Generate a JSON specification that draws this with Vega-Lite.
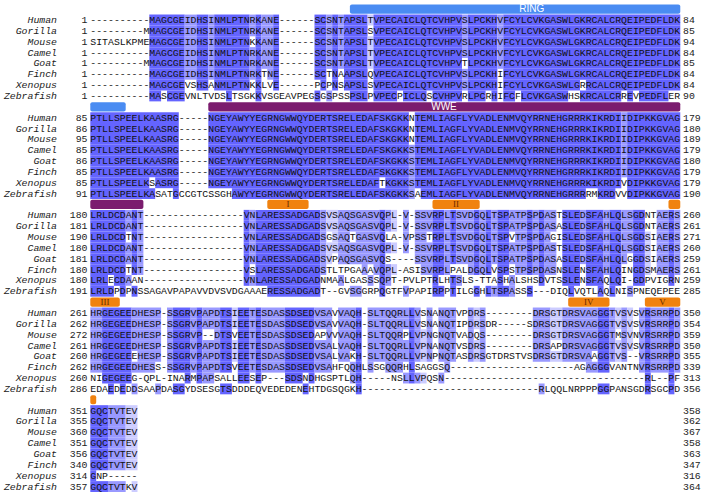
{
"$schema": "https://vega.github.io/schema/vega-lite/v6.json",
"width": 706, "height": 495, "padding": 0, "autosize": {"type": "none"},
"background": "white",
"config": {"view": {"stroke": null}},
"datasets": {
"seq": [
{"r":1,"n":"Human","a":1,"z":84,"q":"----------MAGCGEIDHSINMLPTNRKANE------SCSNTAPSLTVPECAICLQTCVHPVSLPCKHVFCYLCVKGASWLGKRCALCRQEIPEDFLDK"},
{"r":2,"n":"Gorilla","a":1,"z":85,"q":"---------MMAGCGEIDHSINMLPTNRKANE------SCSNTAPSLSVPECAICLQTCVHPVSLPCKHVFCYLCVKGASWLGKRCALCRQEIPEDFLDK"},
{"r":3,"n":"Mouse","a":1,"z":94,"q":"SITASLKPMEMAGCGEIDHSINMLPTNKKANE------SCSNTAPSLTVPECAICLQTCVHPVSLPCKHVFCYLCVKGASWLGKRCALCRQEIPEDFLDK"},
{"r":4,"n":"Camel","a":1,"z":84,"q":"----------MAGCGEIDHSINMLPTNRKANE------SCSNTAPSLTVPECAICLQTCVHPVSLPCKHVFCYLCVKGASWLGKRCALCRQEIPEDFLDK"},
{"r":5,"n":"Goat","a":1,"z":85,"q":"---------MMAGCGEIDHSINMLPTNRKANE------SCSNTAPSLTVPECAICLQTCVHPVTLPCKHVFCYLCVKGASWLGKRCALCRQEIPEDFLDK"},
{"r":6,"n":"Finch","a":1,"z":84,"q":"----------MAGCGEIDHSINMLPTNRKTNE------SCTNAAPSLQVPECAICLQTCVHPVSLPCKHIFCYLCVKGASWLGKRCALCRQEIPEDFLDK"},
{"r":7,"n":"Xenopus","a":1,"z":84,"q":"----------MAGCGEVSHSANMLPTNKKLVE------PCPNSAPSLSVPECAICLQTCVHPVSLPCKHIFCYLCVKGASWLGRRCALCRQEIPEDFLDK"},
{"r":8,"n":"Zebrafish","a":1,"z":90,"q":"----------MASCGEVNLTVDSLTSGKKVSGEAVPEGSGSPSSPSLPVPECPICLQSCVHPVRLPCRHIFCFLCVKGASWHSKRCALCRREVPEDFLER"},
{"r":10,"n":"Human","a":85,"z":179,"q":"PTLLSPEELKAASRG-----NGEYAWYYEGRNGWWQYDERTSRELEDAFSKGKKNTEMLIAGFLYVADLENMVQYRRNEHGRRRKIKRDIIDIPKKGVAG"},
{"r":11,"n":"Gorilla","a":86,"z":180,"q":"PTLLSPEELKAASRG-----NGEYAWYYEGRNGWWQYDERTSRELEDAFSKGKKNTEMLIAGFLYVADLENMVQYRRNEHGRRRKIKRDIIDIPKKGVAG"},
{"r":12,"n":"Mouse","a":95,"z":189,"q":"PTLLSPEELKAASRG-----NGEYAWYYEGRNGWWQYDERTSRELEDAFSKGKKNTEMLIAGFLYVADLENMVQYRRNEHGRRRKIKRDIIDIPKKGVAG"},
{"r":13,"n":"Camel","a":85,"z":179,"q":"PTLLSPEELKAASRG-----NGEYAWYYEGRNGWWQYDERTSRELEDAFSKGKKSTEMLIAGFLYVADLENMVQYRRNEHGRRRKIKRDIIDIPKKGVAG"},
{"r":14,"n":"Goat","a":86,"z":180,"q":"PTLLSPEELKAASRG-----NGEYAWYYEGRNGWWQYDERTSRELEDAFSKGKKSTEMLIAGFLYVADLENMVQYRRNEHGRRRKIKRDIIDIPKKGVAG"},
{"r":15,"n":"Finch","a":85,"z":179,"q":"PTLLSPEELKAASRG-----NGEYAWYYEGRNGWWQYDERTSRELEDAFSKGKKSTEMLIAGFLYVADLENMVQYRRNEHGRRRKIKRDIIDIPKKGVAG"},
{"r":16,"n":"Xenopus","a":85,"z":179,"q":"PTLLSPEELKSASRG-----NGEYAWYYEGRNGWWQYDERTSRELEDAFTKGKKSTEMLIAGFLYVADLENMVQYRRNEHGRRRKIKRDIVDIPKKGVAG"},
{"r":17,"n":"Zebrafish","a":91,"z":190,"q":"PTLLSPEELKASATGCCGTCSSGHAWYYEGRNGWWQYDERTSRELEDAFSKGKKSAEMLIAGFLYVADLENMVQYRRNEHGRRRRMKRDVVDIPKKGVAG"},
{"r":19,"n":"Human","a":180,"z":260,"q":"LRLDCDANT-----------------VNLARESSADGADSVSAQSGASVQPL-V-SSVRPLTSVDGQLTSPATPSPDASTSLEDSFAHLQLSGDNTAERS"},
{"r":20,"n":"Gorilla","a":181,"z":261,"q":"LRLDCDANT-----------------VNLARESSADGADSVSAQSGASVQPL-V-SSVRPLTSVDGQLTSPATPSPDASASLEDSFAHLQLSGDNTAERS"},
{"r":21,"n":"Mouse","a":190,"z":271,"q":"LRLDCDTNT-----------------VNLARESSADGADSGSAQTGASVQLA-VPSSTRPLTSVDGQLTSPVTPSPDAGISLEDSFAHLQLSGDSIAERS"},
{"r":22,"n":"Camel","a":180,"z":260,"q":"LRLDCDANT-----------------VNLARESSADGADSVSAQSGASVQPL-V-SSVRPLTSVDGQLTSPATPSPDASTSLEDSFAHLQLSGDSIAERS"},
{"r":23,"n":"Goat","a":181,"z":259,"q":"LRLDCDANT-----------------VNLARESSADGADSVPAQSGASVQS----SSVRPLTSVDGQLTSPATPSPDASASLEDSFAHLQLGGDSIAERS"},
{"r":24,"n":"Finch","a":180,"z":261,"q":"LRLDCDTNT-----------------VSLARESSADGADSTLTPGAAAVQPL-ASISVRPLPALDGQLVSPSTPSPDASNSLENSFAHLQINGDSMAERS"},
{"r":25,"n":"Xenopus","a":180,"z":259,"q":"LRLECDAAN-----------------VNLARESSADGADNMAALGASSSQPT-PVLPTRLHTSLS-TTASHALSHSDVTSSLENSFAQLQI-GDPVIGRN"},
{"r":26,"n":"Zebrafish","a":191,"z":285,"q":"LRLDPDPNSSAGAVPAPAVVDVSVDGAAAERESSADGADT--GVSGGRPQGTFVPAPIRPPTILGGHLTSPASSS---DIQLVQTLAQLNISPNEQEPEE"},
{"r":28,"n":"Human","a":261,"z":350,"q":"HRGEGEEDHESP-SSGRVPAPDTSIEETESDASSDSEDVSAVVAQH-SLTQQRLLVSNANQTVPDRS--------DRSGTDRSVAGGGTVSVSVRSRRPD"},
{"r":29,"n":"Gorilla","a":262,"z":354,"q":"HRGEGEEDHESP-SSGRVPAPDTSIEETESDASSDSEDVSAVVAQH-SLTQQRLLVSNANQTIPDRSDR-----SDRSGTDRSVAGGGTVSVSVRSRRPD"},
{"r":30,"n":"Mouse","a":272,"z":359,"q":"HRGEGEEDHESP-SSGRVP--DTSVEETESDASSDSEDAPVVVAQH-SLTQQRPLVPNGNQTVADQS--------DRSGTDRSVAGGGTMSVNVRSRRPD"},
{"r":31,"n":"Camel","a":261,"z":350,"q":"HRGEGEEDHESP-SSGRVPAPDTSIEETESDASSDSEDVSALVAQH-SLTQQRLLVPNANQTVSDRS--------DRSAPDRSVAGGGTVSVSVRSRRPD"},
{"r":32,"n":"Goat","a":260,"z":355,"q":"HRGEGEEEHESP-SSGRVPAPDTSIEETESDASSDSEDVSALVAKH-SLTQQRLLVPNPNQTASDRSGTDRSTVSDRSGTDRSVAAGGTVS--VRSRRPD"},
{"r":33,"n":"Finch","a":262,"z":339,"q":"HRGEGEEDHESS-SSGRVPAPDTSVEETESDASSDSEDVSAHFQQHLSSGQQRHLSAGGSQ---------------------AGAGGGVANTNVRSRRPD"},
{"r":34,"n":"Xenopus","a":260,"z":313,"q":"NIGEGEEG-QPL-INARMPAPSALLEESEP---SDSNDHGSPTLQH-----NSLLVPQSN----------------------------------RL--PF"},
{"r":35,"n":"Zebrafish","a":286,"z":356,"q":"EDAEDEDDSAAPDASGYDSESGTSDDDEQVEDEDENEHTDGSQGKH------------------------------RLQQLNRPPPGGPANSGDRSGCPD"},
{"r":37,"n":"Human","a":351,"z":358,"q":"GQCTVTEV"},
{"r":38,"n":"Gorilla","a":355,"z":362,"q":"GQCTVTEV"},
{"r":39,"n":"Mouse","a":360,"z":367,"q":"GQCTVTEV"},
{"r":40,"n":"Camel","a":351,"z":358,"q":"GQCTVTEV"},
{"r":41,"n":"Goat","a":356,"z":363,"q":"GQCTVTEV"},
{"r":42,"n":"Finch","a":340,"z":347,"q":"GQCTVTEV"},
{"r":43,"n":"Xenopus","a":314,"z":316,"q":"GNP-----"},
{"r":44,"n":"Zebrafish","a":357,"z":364,"q":"GQCTVTKV"}
],
"bars": [
{"r":0,"s":45,"e":101,"d":"RING"},
{"r":9,"s":1,"e":7,"d":"RING"},
{"r":9,"s":21,"e":101,"d":"WWE"},
{"r":18,"s":1,"e":10,"d":"WWE"},
{"r":18,"s":31,"e":38,"d":"motif"},
{"r":18,"s":59,"e":67,"d":"motif"},
{"r":18,"s":99,"e":101,"d":"motif"},
{"r":27,"s":1,"e":6,"d":"motif"},
{"r":27,"s":82,"e":89,"d":"motif"},
{"r":27,"s":95,"e":101,"d":"motif"},
{"r":36,"s":1,"e":2,"d":"motif"}
],
"labs": [
{"r":0,"c":75.83,"t":"RING"},
{"r":9,"c":60.95,"t":"WWE"},
{"r":18,"c":34.5,"t":"I"},
{"r":18,"c":63,"t":"II"},
{"r":27,"c":3.5,"t":"III"},
{"r":27,"c":85.5,"t":"IV"},
{"r":27,"c":98,"t":"V"}
]
},
"encoding": {
"y": {"field": "r", "type": "ordinal", "axis": null,
"scale": {"type": "band", "domain": [0,1,2,3,4,5,6,7,8,9,10,11,12,13,14,15,16,17,18,19,20,21,22,23,24,25,26,27,28,29,30,31,32,33,34,35,36,37,38,39,40,41,42,43,44], "range": [3.725, 491.975], "paddingInner": 0, "paddingOuter": 0}}
},
"resolve": {"scale": {"color": "independent"}},
"layer": [
{
"data": {"values": "r,s,e,l\n1,11,17,3\n1,17,19,2\n1,19,21,3\n1,21,22,2\n1,22,28,3\n1,28,29,2\n1,29,30,3\n1,30,32,2\n1,32,33,3\n1,39,41,3\n1,41,42,2\n1,42,43,3\n1,43,44,2\n1,44,48,3\n1,48,49,1\n1,49,64,3\n1,64,65,2\n1,65,70,3\n1,70,71,2\n1,71,101,3\n2,11,17,3\n2,17,19,2\n2,19,21,3\n2,21,22,2\n2,22,28,3\n2,28,29,2\n2,29,30,3\n2,30,32,2\n2,32,33,3\n2,39,41,3\n2,41,42,2\n2,42,43,3\n2,43,44,2\n2,44,48,3\n2,49,64,3\n2,64,65,2\n2,65,70,3\n2,70,71,2\n2,71,101,3\n3,11,17,3\n3,17,19,2\n3,19,21,3\n3,21,22,2\n3,22,28,3\n3,29,30,3\n3,30,32,2\n3,32,33,3\n3,39,41,3\n3,41,42,2\n3,42,43,3\n3,43,44,2\n3,44,48,3\n3,48,49,1\n3,49,64,3\n3,64,65,2\n3,65,70,3\n3,70,71,2\n3,71,101,3\n4,11,17,3\n4,17,19,2\n4,19,21,3\n4,21,22,2\n4,22,28,3\n4,28,29,2\n4,29,30,3\n4,30,32,2\n4,32,33,3\n4,39,41,3\n4,41,42,2\n4,42,43,3\n4,43,44,2\n4,44,48,3\n4,48,49,1\n4,49,64,3\n4,64,65,2\n4,65,70,3\n4,70,71,2\n4,71,101,3\n5,11,17,3\n5,17,19,2\n5,19,21,3\n5,21,22,2\n5,22,28,3\n5,28,29,2\n5,29,30,3\n5,30,32,2\n5,32,33,3\n5,39,41,3\n5,41,42,2\n5,42,43,3\n5,43,44,2\n5,44,48,3\n5,48,49,1\n5,49,64,3\n5,65,70,3\n5,70,71,2\n5,71,101,3\n6,11,17,3\n6,17,19,2\n6,19,21,3\n6,21,22,2\n6,22,28,3\n6,28,29,2\n6,29,30,3\n6,31,32,2\n6,32,33,3\n6,39,41,3\n6,42,43,3\n6,44,48,3\n6,49,64,3\n6,64,65,2\n6,65,70,3\n6,71,101,3\n7,11,17,3\n7,19,21,3\n7,22,28,3\n7,29,30,3\n7,32,33,3\n7,40,41,3\n7,42,43,3\n7,44,48,3\n7,49,64,3\n7,64,65,2\n7,65,70,3\n7,71,84,3\n7,85,101,3\n8,11,13,3\n8,14,17,3\n8,24,25,3\n8,29,30,3\n8,39,40,3\n8,41,42,2\n8,45,48,3\n8,49,53,3\n8,54,58,3\n8,59,64,3\n8,65,68,3\n8,69,70,3\n8,71,73,3\n8,74,82,3\n8,84,91,3\n8,92,93,3\n8,94,99,3\n10,1,16,3\n10,21,55,3\n10,56,91,3\n10,91,92,2\n10,92,101,3\n11,1,16,3\n11,21,55,3\n11,56,91,3\n11,91,92,2\n11,92,101,3\n12,1,16,3\n12,21,55,3\n12,56,91,3\n12,91,92,2\n12,92,101,3\n13,1,16,3\n13,21,55,3\n13,55,56,2\n13,56,91,3\n13,91,92,2\n13,92,101,3\n14,1,16,3\n14,21,55,3\n14,55,56,2\n14,56,91,3\n14,91,92,2\n14,92,101,3\n15,1,16,3\n15,21,55,3\n15,55,56,2\n15,56,91,3\n15,91,92,2\n15,92,101,3\n16,1,11,3\n16,12,16,3\n16,21,50,3\n16,51,55,3\n16,55,56,2\n16,56,91,3\n16,92,101,3\n17,1,12,3\n17,15,16,3\n17,25,55,3\n17,55,56,2\n17,57,85,3\n17,87,90,3\n17,92,101,3\n19,1,7,3\n19,7,8,2\n19,8,9,3\n19,9,10,2\n19,27,28,3\n19,28,29,2\n19,29,40,3\n19,40,41,2\n19,41,43,1\n19,43,50,2\n19,50,51,3\n19,51,52,2\n19,52,53,1\n19,54,55,2\n19,56,59,2\n19,59,61,3\n19,61,62,2\n19,62,63,3\n19,63,66,2\n19,66,67,3\n19,67,68,2\n19,68,69,3\n19,69,70,2\n19,70,72,3\n19,72,75,2\n19,75,76,3\n19,76,77,2\n19,77,78,3\n19,78,80,2\n19,81,84,3\n19,84,85,2\n19,85,88,3\n19,88,89,2\n19,89,91,3\n19,91,93,2\n19,93,95,3\n19,97,99,2\n19,99,100,3\n19,100,101,2\n20,1,7,3\n20,7,8,2\n20,8,9,3\n20,9,10,2\n20,27,28,3\n20,28,29,2\n20,29,40,3\n20,40,41,2\n20,41,43,1\n20,43,50,2\n20,50,51,3\n20,51,52,2\n20,52,53,1\n20,54,55,2\n20,56,59,2\n20,59,61,3\n20,61,62,2\n20,62,63,3\n20,63,66,2\n20,66,67,3\n20,67,68,2\n20,68,69,3\n20,69,70,2\n20,70,72,3\n20,72,75,2\n20,75,76,3\n20,76,77,2\n20,77,78,3\n20,78,80,2\n20,81,84,3\n20,84,85,2\n20,85,88,3\n20,88,89,2\n20,89,91,3\n20,91,93,2\n20,93,95,3\n20,97,99,2\n20,99,100,3\n20,100,101,2\n21,1,7,3\n21,8,9,3\n21,9,10,2\n21,27,28,3\n21,28,29,2\n21,29,40,3\n21,40,41,2\n21,42,43,1\n21,43,45,2\n21,46,50,2\n21,50,51,3\n21,54,55,2\n21,56,58,2\n21,59,61,3\n21,61,62,2\n21,62,63,3\n21,63,66,2\n21,66,67,3\n21,67,68,2\n21,68,69,3\n21,69,70,2\n21,70,72,3\n21,73,75,2\n21,75,76,3\n21,76,77,2\n21,77,78,3\n21,78,79,2\n21,81,84,3\n21,84,85,2\n21,85,88,3\n21,88,89,2\n21,89,91,3\n21,91,93,2\n21,93,95,3\n21,95,96,1\n21,97,99,2\n21,99,100,3\n21,100,101,2\n22,1,7,3\n22,7,8,2\n22,8,9,3\n22,9,10,2\n22,27,28,3\n22,28,29,2\n22,29,40,3\n22,40,41,2\n22,41,43,1\n22,43,50,2\n22,50,51,3\n22,51,52,2\n22,52,53,1\n22,54,55,2\n22,56,59,2\n22,59,61,3\n22,61,62,2\n22,62,63,3\n22,63,66,2\n22,66,67,3\n22,67,68,2\n22,68,69,3\n22,69,70,2\n22,70,72,3\n22,72,75,2\n22,75,76,3\n22,76,77,2\n22,77,78,3\n22,78,80,2\n22,81,84,3\n22,84,85,2\n22,85,88,3\n22,88,89,2\n22,89,91,3\n22,91,93,2\n22,93,95,3\n22,95,96,1\n22,97,99,2\n22,99,100,3\n22,100,101,2\n23,1,7,3\n23,7,8,2\n23,8,9,3\n23,9,10,2\n23,27,28,3\n23,28,29,2\n23,29,40,3\n23,40,41,2\n23,41,42,1\n23,43,50,2\n23,50,51,3\n23,56,59,2\n23,59,61,3\n23,61,62,2\n23,62,63,3\n23,63,66,2\n23,66,67,3\n23,67,68,2\n23,68,69,3\n23,69,70,2\n23,70,72,3\n23,72,75,2\n23,75,76,3\n23,76,77,2\n23,77,78,3\n23,78,80,2\n23,81,84,3\n23,84,85,2\n23,85,88,3\n23,88,89,2\n23,89,91,3\n23,91,92,2\n23,93,95,3\n23,95,96,1\n23,97,99,2\n23,99,100,3\n23,100,101,2\n24,1,7,3\n24,8,9,3\n24,9,10,2\n24,27,28,3\n24,29,40,3\n24,40,41,2\n24,47,48,2\n24,49,50,2\n24,50,51,3\n24,51,52,2\n24,52,53,1\n24,57,59,2\n24,59,61,3\n24,61,62,2\n24,65,66,2\n24,66,67,3\n24,67,68,2\n24,68,69,3\n24,70,72,3\n24,73,75,2\n24,75,76,3\n24,76,77,2\n24,77,78,3\n24,78,80,2\n24,81,84,3\n24,85,88,3\n24,88,89,2\n24,89,91,3\n24,93,95,3\n24,95,96,1\n24,97,99,2\n24,99,100,3\n24,100,101,2\n25,1,4,3\n25,5,7,3\n25,7,8,2\n25,27,28,3\n25,28,29,2\n25,29,40,3\n25,43,44,2\n25,48,49,2\n25,50,51,3\n25,51,52,2\n25,59,60,3\n25,62,63,3\n25,63,64,2\n25,70,71,3\n25,72,73,2\n25,77,78,3\n25,81,84,3\n25,85,88,3\n25,89,91,3\n25,93,95,3\n25,99,100,3\n26,1,5,3\n26,6,7,3\n26,8,9,3\n26,31,40,3\n26,45,47,2\n26,50,51,3\n26,54,55,2\n26,59,61,3\n26,62,63,3\n26,66,67,3\n26,68,69,3\n26,69,70,2\n26,70,72,3\n26,72,73,2\n26,75,76,3\n26,82,83,3\n26,87,88,3\n26,89,90,3\n26,92,93,2\n28,1,3,2\n28,3,8,3\n28,8,13,2\n28,14,15,2\n28,15,18,3\n28,18,19,2\n28,19,20,3\n28,20,23,2\n28,23,25,3\n28,25,26,1\n28,26,28,3\n28,28,29,2\n28,29,30,3\n28,30,34,2\n28,34,39,3\n28,39,42,2\n28,43,46,2\n28,46,47,3\n28,48,55,2\n28,55,56,3\n28,56,57,2\n28,58,59,2\n28,60,63,2\n28,65,66,2\n28,66,67,1\n28,67,68,2\n28,76,79,2\n28,79,81,1\n28,81,87,2\n28,87,89,3\n28,89,90,2\n28,90,91,1\n28,91,92,2\n28,92,93,1\n28,94,95,2\n28,95,96,3\n28,96,99,2\n28,99,100,3\n28,100,101,2\n29,1,3,2\n29,3,8,3\n29,8,13,2\n29,14,15,2\n29,15,18,3\n29,18,19,2\n29,19,20,3\n29,20,23,2\n29,23,25,3\n29,25,26,1\n29,26,28,3\n29,28,29,2\n29,29,30,3\n29,30,34,2\n29,34,39,3\n29,39,42,2\n29,43,46,2\n29,46,47,3\n29,48,55,2\n29,55,56,3\n29,56,57,2\n29,58,59,2\n29,60,63,2\n29,65,66,2\n29,66,67,1\n29,67,68,2\n29,76,79,2\n29,79,81,1\n29,81,87,2\n29,87,89,3\n29,89,90,2\n29,90,91,1\n29,91,92,2\n29,92,93,1\n29,94,95,2\n29,95,96,3\n29,96,99,2\n29,99,100,3\n29,100,101,2\n30,1,3,2\n30,3,8,3\n30,8,13,2\n30,14,15,2\n30,15,18,3\n30,18,19,2\n30,19,20,3\n30,22,23,2\n30,23,25,3\n30,26,28,3\n30,28,29,2\n30,29,30,3\n30,30,34,2\n30,34,39,3\n30,41,42,2\n30,43,46,2\n30,46,47,3\n30,48,54,2\n30,55,56,3\n30,56,57,2\n30,57,58,1\n30,58,59,2\n30,60,63,2\n30,65,66,2\n30,67,68,2\n30,76,79,2\n30,79,81,1\n30,81,87,2\n30,87,89,3\n30,89,90,2\n30,91,92,2\n30,92,93,1\n30,94,95,2\n30,95,96,3\n30,96,99,2\n30,99,100,3\n30,100,101,2\n31,1,3,2\n31,3,8,3\n31,8,13,2\n31,14,15,2\n31,15,18,3\n31,18,19,2\n31,19,20,3\n31,20,23,2\n31,23,25,3\n31,25,26,1\n31,26,28,3\n31,28,29,2\n31,29,30,3\n31,30,34,2\n31,34,39,3\n31,39,42,2\n31,43,46,2\n31,46,47,3\n31,48,55,2\n31,55,56,3\n31,56,57,2\n31,57,58,1\n31,58,59,2\n31,60,63,2\n31,65,66,2\n31,66,67,1\n31,67,68,2\n31,76,79,2\n31,81,87,2\n31,87,89,3\n31,89,90,2\n31,90,91,1\n31,91,92,2\n31,92,93,1\n31,94,95,2\n31,95,96,3\n31,96,99,2\n31,99,100,3\n31,100,101,2\n32,1,3,2\n32,3,8,3\n32,9,13,2\n32,14,15,2\n32,15,18,3\n32,18,19,2\n32,19,20,3\n32,20,23,2\n32,23,25,3\n32,25,26,1\n32,26,28,3\n32,28,29,2\n32,29,30,3\n32,30,34,2\n32,34,39,3\n32,39,42,2\n32,43,45,2\n32,46,47,3\n32,48,55,2\n32,55,56,3\n32,56,57,2\n32,57,58,1\n32,58,59,2\n32,60,63,2\n32,65,66,2\n32,66,67,1\n32,67,68,2\n32,76,79,2\n32,79,81,1\n32,81,86,2\n32,87,89,3\n32,89,90,2\n32,90,91,1\n32,91,92,2\n32,94,95,2\n32,95,96,3\n32,96,99,2\n32,99,100,3\n32,100,101,2\n33,1,3,2\n33,3,8,3\n33,8,12,2\n33,14,15,2\n33,15,18,3\n33,18,19,2\n33,19,20,3\n33,20,23,2\n33,23,25,3\n33,26,28,3\n33,28,29,2\n33,29,30,3\n33,30,34,2\n33,34,39,3\n33,39,42,2\n33,45,46,2\n33,46,47,3\n33,48,49,2\n33,51,54,2\n33,55,56,3\n33,61,62,2\n33,85,87,2\n33,87,89,3\n33,94,95,2\n33,95,96,3\n33,96,99,2\n33,99,100,3\n33,100,101,2\n34,3,8,3\n34,17,18,3\n34,19,20,3\n34,20,22,2\n34,26,28,3\n34,29,30,3\n34,34,37,3\n34,38,39,3\n34,45,46,2\n34,46,47,3\n34,54,55,2\n34,55,56,3\n34,56,57,2\n34,57,58,1\n34,60,61,2\n34,95,96,3\n34,99,100,3\n35,4,5,3\n35,6,7,3\n35,8,9,2\n35,12,13,2\n35,15,17,3\n35,23,25,3\n35,37,38,3\n35,46,47,3\n35,77,78,2\n35,87,89,3\n35,95,96,3\n35,99,100,3\n37,1,4,3\n37,4,7,2\n37,7,9,1\n38,1,4,3\n38,4,7,2\n38,7,9,1\n39,1,4,3\n39,4,7,2\n39,7,9,1\n40,1,4,3\n40,4,7,2\n40,7,9,1\n41,1,4,3\n41,4,7,2\n41,7,9,1\n42,1,4,3\n42,4,7,2\n42,7,9,1\n43,1,2,3\n44,1,4,3\n44,4,7,2\n44,8,9,1",
"format": {"type": "csv", "parse": {"r": "number", "s": "number", "e": "number", "l": "string"}}},
"mark": {"type": "rect"},
"encoding": {
"x": {"field": "s", "type": "quantitative", "axis": null, "scale": {"domain": [-14.305, 105.36], "range": [0, 706], "nice": false, "zero": false}},
"x2": {"field": "e"},
"color": {"field": "l", "type": "nominal", "legend": null, "scale": {"domain": ["1","2","3"], "range": ["#ccccff","#9999ff","#6464ff"]}}
}
},
{
"data": {"name": "bars"},
"mark": {"type": "bar", "height": {"band": 0.85}, "cornerRadius": 2},
"encoding": {
"x": {"field": "s", "type": "quantitative", "axis": null, "scale": {"domain": [-14.305, 105.36], "range": [0, 706], "nice": false, "zero": false}},
"x2": {"field": "e"},
"color": {"field": "d", "type": "nominal", "legend": null, "scale": {"domain": ["RING","WWE","motif"], "range": ["#4a8cf2","#7b1c6e","#f0820f"]}}
}
},
{
"data": {"name": "labs"},
"transform": [{"filter": {"field": "t", "oneOf": ["RING","WWE"]}}],
"mark": {"type": "text", "font": "Liberation Sans", "fontSize": 10, "color": "white", "align": "center", "baseline": "middle"},
"encoding": {
"x": {"field": "c", "type": "quantitative", "axis": null, "scale": {"domain": [-14.305, 105.36], "range": [0, 706], "nice": false, "zero": false}},
"text": {"field": "t"}
}
},
{
"data": {"name": "labs"},
"transform": [{"filter": {"not": {"field": "t", "oneOf": ["RING","WWE"]}}}],
"mark": {"type": "text", "font": "Liberation Serif", "fontSize": 9, "color": "#6a2a00", "align": "center", "baseline": "middle"},
"encoding": {
"x": {"field": "c", "type": "quantitative", "axis": null, "scale": {"domain": [-14.305, 105.36], "range": [0, 706], "nice": false, "zero": false}},
"text": {"field": "t"}
}
},
{
"data": {"name": "seq"},
"mark": {"type": "text", "font": "Liberation Mono", "fontStyle": "italic", "fontSize": 9.83, "color": "#222222", "align": "right", "baseline": "middle"},
"encoding": {
"x": {"datum": -4.644, "type": "quantitative", "axis": null, "scale": {"domain": [-14.305, 105.36], "range": [0, 706], "nice": false, "zero": false}},
"text": {"field": "n"}
}
},
{
"data": {"name": "seq"},
"mark": {"type": "text", "font": "Liberation Mono", "fontSize": 9.83, "color": "#222222", "align": "right", "baseline": "middle"},
"encoding": {
"x": {"datum": 0.525, "type": "quantitative", "axis": null, "scale": {"domain": [-14.305, 105.36], "range": [0, 706], "nice": false, "zero": false}},
"text": {"field": "a"}
}
},
{
"data": {"name": "seq"},
"mark": {"type": "text", "font": "Liberation Mono", "fontSize": 9.83, "color": "#111111", "align": "left", "baseline": "middle"},
"encoding": {
"x": {"datum": 1, "type": "quantitative", "axis": null, "scale": {"domain": [-14.305, 105.36], "range": [0, 706], "nice": false, "zero": false}},
"text": {"field": "q"}
}
},
{
"data": {"name": "seq"},
"mark": {"type": "text", "font": "Liberation Mono", "fontSize": 9.83, "color": "#222222", "align": "left", "baseline": "middle"},
"encoding": {
"x": {"datum": 101.46, "type": "quantitative", "axis": null, "scale": {"domain": [-14.305, 105.36], "range": [0, 706], "nice": false, "zero": false}},
"text": {"field": "z"}
}
}
]
}
